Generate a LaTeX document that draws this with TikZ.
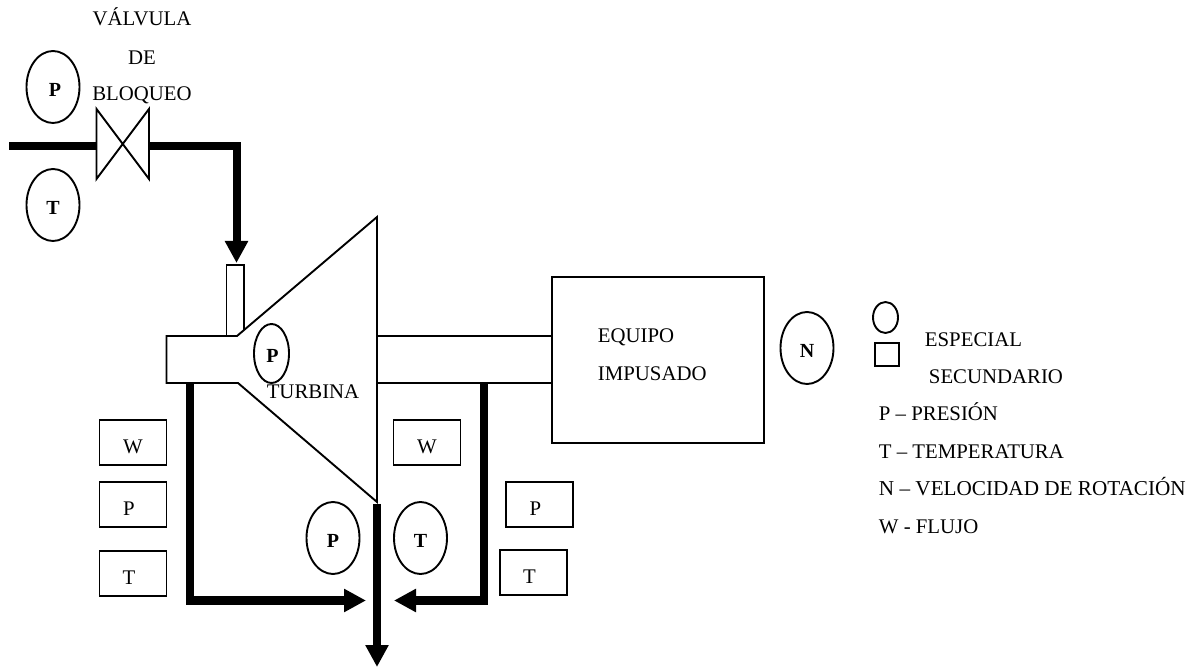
\documentclass[tikz,border=0pt]{standalone}
\usepackage{fontspec}
\setmainfont{Liberation Serif}
\usetikzlibrary{arrows.meta,shapes,positioning}

\begin{document}
\begin{tikzpicture}[
  x=0.5pt,y=-0.5pt,
  line width=0.95pt,
  inst/.style={ellipse,draw,minimum width=26.5pt,minimum height=36pt,inner sep=0pt,text height=9.5pt,text depth=0pt,font=\fontsize{10}{12}\selectfont\bfseries},
  sbox/.style={rectangle,draw,minimum width=33.5pt,minimum height=22.5pt,inner sep=0pt,text height=11pt,text depth=0pt,font=\fontsize{10.4}{12}\selectfont},
  lbl/.style={inner sep=0pt,text height=7pt,text depth=0pt,font=\fontsize{10.4}{12}\selectfont},
  pipe/.style={line width=4pt,miter limit=10},
  flow/.style={pipe,-{Triangle[length=11pt,width=11pt]}}
]
  \useasboundingbox (0,0) rectangle (1199,667);

  % Valve
  \node[lbl] (vtxt1) at (142,18.5) {VÁLVULA};
  \node[lbl] (vtxt2) at (142,57.5) {DE};
  \node[lbl] (vtxt3) at (142,93.5) {BLOQUEO};
  \coordinate (vin) at (9,146);
  \coordinate (vl) at (96.5,146);
  \coordinate (vr) at (149,146);
  \draw[line join=miter] (96.5,109) -- (149,179) -- (149,109) -- (96.5,179) -- cycle;
  \node[inst] (pin) at (53,87) {\hspace{2pt}P};
  \node[inst] (tin) at (53,205) {T};

  % Turbine
  \coordinate (stub) at (236.5,263);
  \coordinate (shl) at (190,383);
  \coordinate (shr) at (484,383);
  \coordinate (exh) at (377,504);
  \draw (226.5,336) -- (226.5,265) -- (244,265) -- (244,330);
  \draw (166.5,336) -- (237,336) -- (377,217) -- (377,502) -- (238,383) -- (166.5,383) -- cycle;
  \node[inst,minimum width=17.5pt,minimum height=29.5pt] (pint) at (271.5,353.5) {\hspace{1pt}P};
  \node[lbl] (turb) at (313,392) {TURBINA};

  % Driven equipment
  \node[draw,minimum width=106pt,minimum height=83pt,inner sep=0pt] (equipo) at (658,360) {};
  \draw (377,336) -- (equipo.west |- 0,336);
  \draw (377,383) -- (equipo.west |- 0,383);
  \node[lbl,anchor=west] (eq1) at (597,336) {EQUIPO};
  \node[lbl,anchor=west] (eq2) at (597,374) {IMPUSADO};
  \node[inst] (nrot) at (807,348) {N};

  % Instruments
  \node[sbox] (wl) at (133,442.5) {W};
  \node[sbox,below=7.7pt of wl] (pl) {\hspace{-4pt}P};
  \node[sbox,below=10.7pt of pl] (tl) {\hspace{-4pt}T};
  \node[sbox] (wr) at (427,442.5) {W};
  \node[sbox] (pr) at (539.5,504.5) {\hspace{-4pt}P};
  \node[sbox,below=10.7pt of pr,xshift=-3pt] (tr) {\hspace{-4pt}T};
  \node[inst] (pex) at (333,538) {P};
  \node[inst] (tex) at (420.5,538) {T};

  % Legend
  \node[ellipse,draw,minimum width=12.5pt,minimum height=15.5pt,inner sep=0pt] (lc) at (885.5,317.5) {};
  \node[draw,minimum width=12pt,minimum height=11.5pt,inner sep=0pt] (ls) at (887,354.5) {};
  \node[lbl,anchor=west] (esp) at (924,340) {ESPECIAL};
  \node[lbl,anchor=west] (sec) at (928,377) {SECUNDARIO};
  \node[lbl,anchor=west] (lp) at (878,414) {P – PRESIÓN};
  \node[lbl,anchor=west] (lt) at (878,452) {T – TEMPERATURA};
  \node[lbl,anchor=west,font=\fontsize{10.6}{12}\selectfont] (ln) at (878,489) {N – VELOCIDAD DE ROTACIÓN};
  \node[lbl,anchor=west] (lw) at (878,527) {W - FLUJO};

  % Pipes
  \draw[pipe] (vin) -- (vl);
  \draw[flow] (vr) -| (stub);
  \coordinate (tipl) at (366,600.5);
  \coordinate (tipr) at (394,600.5);
  \coordinate (tipd) at (377,667);
  \draw[flow] (shl) |- (tipl);
  \draw[flow] (shr) |- (tipr);
  \draw[flow] (exh) -- (tipd);
\end{tikzpicture}
\end{document}
